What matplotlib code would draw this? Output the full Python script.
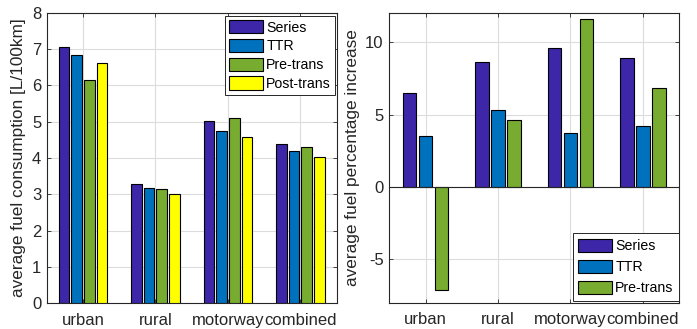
import matplotlib
matplotlib.use("Agg")
import matplotlib.pyplot as plt
import numpy as np

plt.rcParams['font.family'] = ['Liberation Sans', 'DejaVu Sans']

categories = ["urban", "rural", "motorway", "combined"]

consumption_series = ["Series", "TTR", "Pre-trans", "Post-trans"]
consumption = {
    "Series":     [7.05, 3.28, 5.02, 4.38],
    "TTR":        [6.85, 3.18, 4.75, 4.19],
    "Pre-trans":  [6.15, 3.16, 5.11, 4.30],
    "Post-trans": [6.62, 3.02, 4.58, 4.02],
}

increase_series = ["Series", "TTR", "Pre-trans"]
increase = {
    "Series":    [6.49, 8.64, 9.61, 8.89],
    "TTR":       [3.49, 5.31, 3.72, 4.23],
    "Pre-trans": [-7.11, 4.62, 11.59, 6.84],
}

left_yticks = [0, 1, 2, 3, 4, 5, 6, 7, 8]
right_yticks = [-5, 0, 5, 10]
right_yticklabels = ["-5", "0", "5", "10"]

colors = {
    "Series": "#3E26A8",
    "TTR": "#0072BD",
    "Pre-trans": "#77AC30",
    "Post-trans": "#FFFF00",
}

TXT = "#262626"
AXC = "#262626"
FS = 12
LFS = 10.2

fig = plt.figure(figsize=(6.97, 3.29), dpi=100)
ax1 = fig.add_axes([0.067, 0.078, 0.416, 0.883])
ax2 = fig.add_axes([0.5585, 0.080, 0.416, 0.8796])

x = np.arange(1, len(categories) + 1)


def style(ax):
    ax.set_axisbelow(True)
    ax.grid(True, color="#DCDCDC", linewidth=0.8)
    for s in ax.spines.values():
        s.set_color(AXC)
        s.set_linewidth(0.8)
    ax.tick_params(direction="in", length=3, width=0.6, colors=AXC,
                   top=True, right=True, labelsize=FS, labelcolor=TXT)
    ax.tick_params(axis="x", pad=7)
    ax.tick_params(axis="y", pad=4)
    ax.set_xticks(x)
    ax.set_xticklabels(categories)
    ax.set_xlim(0.5, len(categories) + 0.5)


# Left chart
n = len(consumption_series)
bw = 0.148
step = 0.175
for i, name in enumerate(consumption_series):
    off = (i - (n - 1) / 2) * step
    ax1.bar(x + off, consumption[name], width=bw, color=colors[name],
            edgecolor="black", linewidth=0.8, label=name, zorder=3)
style(ax1)
ax1.set_ylim(0, 8)
ax1.set_yticks(left_yticks)
ax1.set_ylabel("average fuel consumption [L/100km]", fontsize=12.4, color=TXT, labelpad=4)
leg1 = ax1.legend(loc="upper right", bbox_to_anchor=(0.995, 0.99), fontsize=LFS,
                  handlelength=2.4, handleheight=1.08, handletextpad=0.2,
                  labelspacing=0.3, borderpad=0.3, borderaxespad=0.0,
                  fancybox=False, framealpha=1, edgecolor="#262626")
leg1.get_frame().set_linewidth(0.7)

# Right chart
n = len(increase_series)
bw = 0.185
step = 0.222
for i, name in enumerate(increase_series):
    off = (i - (n - 1) / 2) * step
    ax2.bar(x + off, increase[name], width=bw, color=colors[name],
            edgecolor="black", linewidth=0.8, label=name, zorder=3)
ax2.axhline(0, color="#262626", linewidth=0.8, zorder=4)
style(ax2)
ax2.set_ylim(-8, 12)
ax2.set_yticks(right_yticks)
ax2.set_yticklabels(right_yticklabels)
ax2.set_ylabel("average fuel percentage increase", fontsize=12.4, color=TXT, labelpad=4)
leg2 = ax2.legend(loc="lower right", bbox_to_anchor=(1.0, 0.006), fontsize=LFS,
                  handlelength=2.4, handleheight=1.1, handletextpad=0.2,
                  labelspacing=0.45, borderpad=0.4, borderaxespad=0.0,
                  fancybox=False, framealpha=1, edgecolor="#262626")
leg2.get_frame().set_linewidth(0.7)

fig.savefig("out.png", dpi=100)
